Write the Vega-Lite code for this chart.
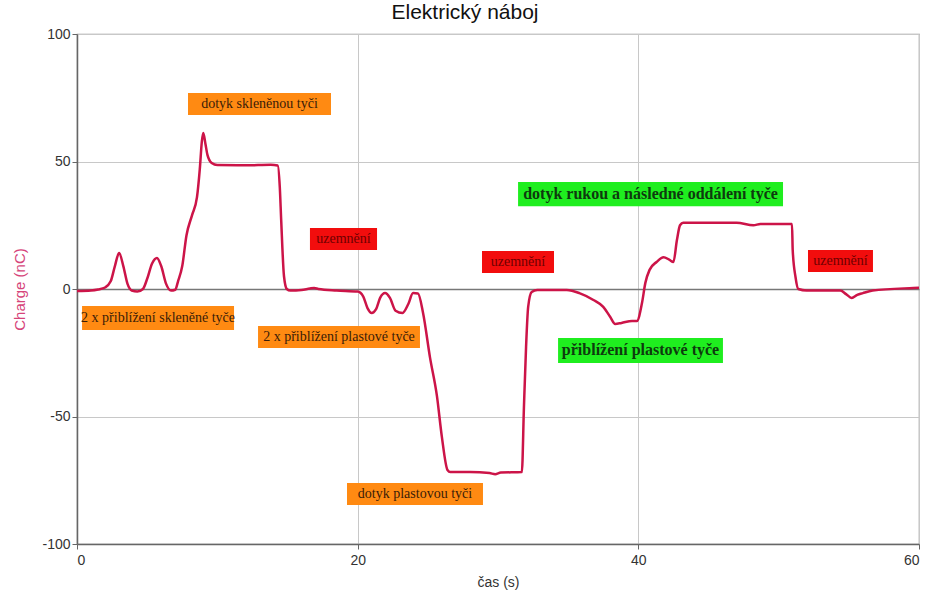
{
  "$schema": "https://vega.github.io/schema/vega-lite/v6.json",
  "autosize": {"type": "none"},
  "width": 842,
  "height": 510,
  "padding": {"left": 77, "top": 34, "right": 9, "bottom": 53},
  "background": "white",
  "title": {"text": "Elektrický náboj", "font": "Liberation Sans", "fontSize": 21, "fontWeight": "normal", "color": "#111111", "dx": -33, "offset": 4},
  "config": {
    "view": {"stroke": "#999999", "strokeWidth": 1.2},
    "axis": {"labelFont": "Liberation Sans", "titleFont": "Liberation Sans", "labelColor": "#333333", "titleFontWeight": "normal", "domainColor": "#666666", "domainWidth": 1.5, "tickColor": "#666666", "tickSize": 5, "gridColor": "#c8c8c8"}
  },
  "resolve": {"scale": {"color": "independent"}},
  "datasets": {
    "charge": [
      {"t": 0, "c": -0.8}, {"t": 1.0, "c": -0.6}, {"t": 1.5, "c": -0.2}, {"t": 2.0, "c": 0.6}, {"t": 2.4, "c": 3}, {"t": 2.7, "c": 9}, {"t": 3.0, "c": 14.1}, {"t": 3.3, "c": 9}, {"t": 3.6, "c": 2}, {"t": 3.9, "c": -0.6}, {"t": 4.3, "c": -1}, {"t": 4.7, "c": 0}, {"t": 5.0, "c": 4}, {"t": 5.35, "c": 10}, {"t": 5.7, "c": 12.2}, {"t": 6.0, "c": 9}, {"t": 6.35, "c": 2}, {"t": 6.7, "c": -0.6}, {"t": 7.0, "c": -0.3}, {"t": 7.2, "c": 3}, {"t": 7.5, "c": 9}, {"t": 7.8, "c": 21}, {"t": 8.2, "c": 29}, {"t": 8.55, "c": 36}, {"t": 8.75, "c": 47}, {"t": 8.9, "c": 58}, {"t": 9.0, "c": 61.2}, {"t": 9.15, "c": 57}, {"t": 9.3, "c": 52.5}, {"t": 9.6, "c": 49.4}, {"t": 10.0, "c": 48.6}, {"t": 12.0, "c": 48.5}, {"t": 13.8, "c": 48.7}, {"t": 14.3, "c": 48.4}, {"t": 14.45, "c": 40}, {"t": 14.55, "c": 27}, {"t": 14.75, "c": 5}, {"t": 14.95, "c": 0}, {"t": 15.2, "c": -0.6}, {"t": 16.0, "c": -0.4}, {"t": 16.6, "c": 0.2}, {"t": 16.9, "c": 0.4}, {"t": 17.2, "c": 0}, {"t": 18.5, "c": -0.6}, {"t": 20.0, "c": -1}, {"t": 20.4, "c": -3}, {"t": 20.7, "c": -7.5}, {"t": 21.0, "c": -9.4}, {"t": 21.3, "c": -8}, {"t": 21.6, "c": -3.5}, {"t": 21.95, "c": -1.6}, {"t": 22.3, "c": -3.5}, {"t": 22.7, "c": -8.5}, {"t": 23.2, "c": -9.4}, {"t": 23.6, "c": -6}, {"t": 23.95, "c": -1.6}, {"t": 24.3, "c": -1.8}, {"t": 24.66, "c": -9.4}, {"t": 25.15, "c": -26.7}, {"t": 25.65, "c": -42}, {"t": 26.0, "c": -58}, {"t": 26.4, "c": -71}, {"t": 26.6, "c": -71.8}, {"t": 28.0, "c": -71.8}, {"t": 29.4, "c": -72.2}, {"t": 29.8, "c": -72.6}, {"t": 30.2, "c": -72}, {"t": 31.7, "c": -71.8}, {"t": 31.85, "c": -46}, {"t": 32.0, "c": -22.7}, {"t": 32.15, "c": -7}, {"t": 32.4, "c": -1.2}, {"t": 32.8, "c": -0.4}, {"t": 34.9, "c": -0.4}, {"t": 35.8, "c": -1.6}, {"t": 36.8, "c": -4.3}, {"t": 37.5, "c": -7}, {"t": 38.0, "c": -11}, {"t": 38.35, "c": -13.7}, {"t": 38.8, "c": -13.3}, {"t": 39.55, "c": -12.5}, {"t": 39.9, "c": -12.5}, {"t": 40.26, "c": -5.5}, {"t": 40.5, "c": 2.4}, {"t": 40.8, "c": 7.5}, {"t": 41.3, "c": 10.6}, {"t": 41.8, "c": 12.5}, {"t": 42.2, "c": 11.5}, {"t": 42.5, "c": 10.6}, {"t": 42.75, "c": 19.2}, {"t": 42.97, "c": 25}, {"t": 43.2, "c": 26}, {"t": 47.0, "c": 26}, {"t": 48.2, "c": 25}, {"t": 48.7, "c": 25.5}, {"t": 50.95, "c": 25.5}, {"t": 51.0, "c": 15.3}, {"t": 51.2, "c": 4.7}, {"t": 51.4, "c": 0}, {"t": 52.0, "c": -0.6}, {"t": 54.4, "c": -0.6}, {"t": 54.8, "c": -2}, {"t": 55.2, "c": -3.5}, {"t": 55.6, "c": -2.3}, {"t": 56.0, "c": -1.6}, {"t": 56.7, "c": -0.6}, {"t": 59.6, "c": 0.4}, {"t": 60, "c": 0.5}
    ],
    "notes": [
      {"label": "dotyk skleněnou tyči", "group": "orange", "t1": 7.91, "t2": 18.1, "c1": 68.2, "c2": 76.9},
      {"label": "2 x přiblížení skleněné tyče", "group": "orange", "t1": 0.36, "t2": 11.19, "c1": -16.1, "c2": -6.7},
      {"label": "uzemnění", "group": "red", "t1": 16.6, "t2": 21.38, "c1": 15.3, "c2": 23.9},
      {"label": "2 x přiblížení plastové tyče", "group": "orange", "t1": 12.9, "t2": 24.44, "c1": -23.1, "c2": -14.5},
      {"label": "uzemnění", "group": "red", "t1": 28.86, "t2": 33.99, "c1": 6.3, "c2": 14.9},
      {"label": "dotyk plastovou tyči", "group": "orange", "t1": 19.24, "t2": 28.93, "c1": -84.7, "c2": -76.1},
      {"label": "dotyk rukou a následné oddálení tyče", "group": "green", "t1": 31.43, "t2": 50.31, "c1": 32.5, "c2": 42.0},
      {"label": "přiblížení plastové tyče", "group": "green", "t1": 34.28, "t2": 46.03, "c1": -29.0, "c2": -19.2},
      {"label": "uzemnění", "group": "red", "t1": 52.09, "t2": 56.72, "c1": 6.7, "c2": 15.3}
    ]
  },
  "layer": [
    {
      "data": {"name": "notes"},
      "mark": {"type": "rect"},
      "encoding": {
        "x": {"field": "t1", "type": "quantitative", "scale": {"domain": [0, 60], "nice": false},
          "axis": {"title": "čas (s)", "titleFontSize": 14, "titleColor": "#333333", "titlePadding": 8, "labelFontSize": 14, "labelPadding": 4,
            "values": [0, 20, 40, 60],
            "labelExpr": "'' + datum.value",
            "grid": true}},
        "x2": {"field": "t2"},
        "y": {"field": "c1", "type": "quantitative", "scale": {"domain": [-100, 100], "nice": false},
          "axis": {"title": "Charge (nC)", "titleFontSize": 15, "titleColor": "#d6457a", "titlePadding": 14, "labelFontSize": 14, "labelPadding": 2,
            "values": [-100, -50, 0, 50, 100],
            "labelExpr": "'' + datum.value",
            "grid": true,
            "gridColor": {"condition": {"test": "datum.value === 0", "value": "#777777"}, "value": "#c8c8c8"},
            "gridWidth": {"condition": {"test": "datum.value === 0", "value": 1.5}, "value": 1}}},
        "y2": {"field": "c2"},
        "color": {"field": "group", "type": "nominal", "legend": null, "scale": {"domain": ["orange", "red", "green"], "range": ["#ff8a12", "#f20d0d", "#1fee1f"]}}
      }
    },
    {
      "data": {"name": "notes"},
      "transform": [
        {"filter": "datum.group === 'orange'"},
        {"calculate": "(datum.t1 + datum.t2) / 2", "as": "tm"},
        {"calculate": "(datum.c1 + datum.c2) / 2", "as": "cm"}
      ],
      "mark": {"type": "text", "font": "Liberation Serif", "fontSize": 14, "baseline": "middle", "align": "center", "color": "#3a1c08"},
      "encoding": {
        "x": {"field": "tm", "type": "quantitative"},
        "y": {"field": "cm", "type": "quantitative"},
        "text": {"field": "label"}
      }
    },
    {
      "data": {"name": "notes"},
      "transform": [
        {"filter": "datum.group === 'red'"},
        {"calculate": "(datum.t1 + datum.t2) / 2", "as": "tm"},
        {"calculate": "(datum.c1 + datum.c2) / 2", "as": "cm"}
      ],
      "mark": {"type": "text", "font": "Liberation Serif", "fontSize": 14, "baseline": "middle", "align": "center", "color": "#6e0000"},
      "encoding": {
        "x": {"field": "tm", "type": "quantitative"},
        "y": {"field": "cm", "type": "quantitative"},
        "text": {"field": "label"}
      }
    },
    {
      "data": {"name": "notes"},
      "transform": [
        {"filter": "datum.group === 'green'"},
        {"calculate": "(datum.t1 + datum.t2) / 2", "as": "tm"},
        {"calculate": "(datum.c1 + datum.c2) / 2", "as": "cm"}
      ],
      "mark": {"type": "text", "font": "Liberation Serif", "fontSize": 16, "fontWeight": "bold", "baseline": "middle", "align": "center", "color": "#0e3a0e"},
      "encoding": {
        "x": {"field": "tm", "type": "quantitative"},
        "y": {"field": "cm", "type": "quantitative"},
        "text": {"field": "label"}
      }
    },
    {
      "data": {"name": "charge"},
      "mark": {"type": "line", "color": "#cc1448", "strokeWidth": 2.5, "interpolate": "monotone"},
      "encoding": {
        "x": {"field": "t", "type": "quantitative"},
        "y": {"field": "c", "type": "quantitative"}
      }
    }
  ]
}
